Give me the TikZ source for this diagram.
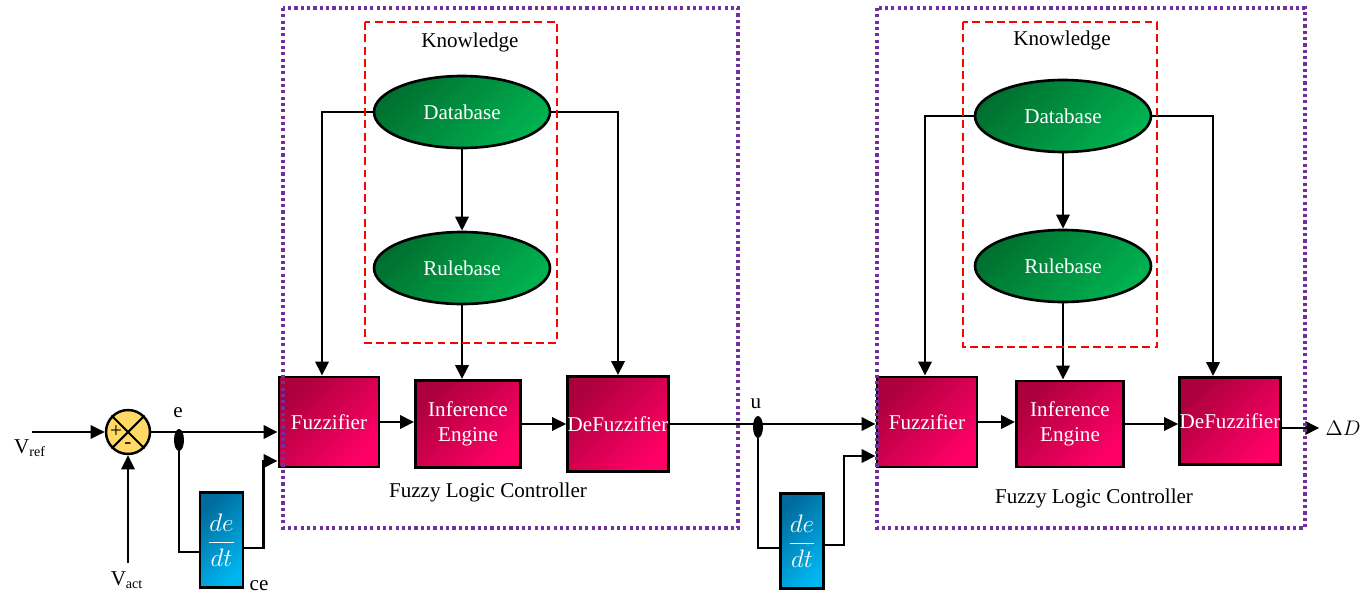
\documentclass[tikz,border=0pt]{standalone}
\usepackage{fontspec}
\setmainfont{Liberation Serif}
\usepackage{tikz}
\usetikzlibrary{arrows.meta,shapes.geometric,positioning,calc}
\definecolor{flcpurple}{RGB}{112,48,160}
\definecolor{crimdark}{RGB}{172,0,60}
\definecolor{crimlight}{RGB}{255,0,102}
\definecolor{grndark}{RGB}{0,112,48}
\definecolor{grnlight}{RGB}{0,178,80}
\definecolor{bludark}{RGB}{0,108,158}
\definecolor{blulight}{RGB}{0,182,240}
\definecolor{sumyellow}{RGB}{255,217,102}

\begin{document}
\begin{tikzpicture}[
  x=0.02cm,y=-0.02cm,
  blk/.style={rectangle,draw=black,line width=1.6pt,
              top color=crimdark,bottom color=crimlight,shading angle=45,
              text=white,align=center,inner sep=0pt,
              minimum width=2cm,minimum height=1.8cm,
              font=\fontsize{12}{14}\selectfont},
  kbase/.style={ellipse,draw=black,line width=1.5pt,
                top color=grndark,bottom color=grnlight,shading angle=45,
                text=white,minimum width=3.52cm,minimum height=1.44cm,
                inner sep=0pt,font=\fontsize{12}{14}\selectfont},
  diffblk/.style={rectangle,draw=black,line width=1.6pt,
                  top color=bludark,bottom color=blulight,shading angle=45,
                  text=white,minimum width=0.86cm,minimum height=1.9cm,
                  inner sep=0pt,font=\fontsize{15}{17}\selectfont},
  sumj/.style={circle,draw=black,line width=1.4pt,fill=sumyellow,
               minimum size=0.88cm,inner sep=0pt},
  tap/.style={ellipse,fill=black,minimum width=0.2cm,
              minimum height=0.44cm,inner sep=0pt},
  lbl/.style={font=\fontsize{12}{14}\selectfont},
  wire/.style={line width=1.6pt},
  arr/.style={-{Triangle[length=8pt,width=7.5pt]},line width=1.6pt},
  flcframe/.style={draw=flcpurple,line width=2pt,
                   dash pattern=on 1.8pt off 1.8pt},
  kframe/.style={draw=red,line width=1.6pt,
                 dash pattern=on 4.5pt off 2.5pt},
]
\useasboundingbox (0,0) rectangle (1368,595);

%% Error path: V_ref, V_act -> sum -> e
\node[sumj] (sum) at (128,432) {};
\draw[line width=1.2pt] (sum.north west) -- (sum.south east)
                        (sum.north east) -- (sum.south west);
\node[lbl] (plus)  at (116,432) {+};
\node[lbl] (minus) at (128,446) {-};

\coordinate (vrefin) at (32,432);
\coordinate (vactin) at (128,563);
\node[lbl] (vref) at (30,448) {V\textsubscript{ref}};
\node[lbl,anchor=south] (vact) at (127,595) {V\textsubscript{act}};
\draw[arr] (vrefin) -- (sum.west);
\draw[arr] (vactin) -- (sum.south);

%% Left controller
\node[blk] (fz1) at (329,422) {Fuzzifier};
\node[blk,minimum width=2.1cm,minimum height=1.74cm] (ie1) at (468,424) {Inference\\Engine};
\node[blk,minimum height=1.9cm] (df1) at (618,424) {DeFuzzifier};
\node[kbase] (db1) at (462,112) {Database};
\node[kbase] (rb1) at (462,268) {Rulebase};
\node[lbl] (kn1)  at (470,42)  {Knowledge};
\node[lbl] (flc1) at (488,492) {Fuzzy Logic Controller};

% e and its derivative
\draw[arr] (sum.east) -- (sum.east -| fz1.west);
\node[tap] (je) at (179,440) {};
\node[lbl] (elbl) at (178,413) {e};
\node[diffblk] (dd1) at (221.5,540) {$\displaystyle\frac{de}{dt}$};
\node[lbl] (celbl) at (259,586) {ce};
\draw[wire] (je.south) |- ([yshift=-0.24cm]dd1.west);
\draw[arr] ([yshift=-0.16cm]dd1.east) -- ++(19,0) |- ([yshift=-0.78cm]fz1.west);

% Knowledge arrows
\draw[arr] (db1.west) -| ([xshift=-0.14cm]fz1.north);
\draw[arr] (db1.east) -| (df1.north);
\draw[arr] (db1) -- (rb1);
\draw[arr] (rb1.south) -- (rb1.south |- ie1.north);
\draw[arr] (fz1.east) -- (fz1.east -| ie1.west);
\draw[arr] (ie1.east) -- (df1.west);

%% Right controller
\node[blk] (fz2) at (927,422) {Fuzzifier};
\node[blk,minimum width=2.14cm,minimum height=1.72cm] (ie2) at (1070,424) {Inference\\Engine};
\node[blk,minimum height=1.74cm] (df2) at (1230,421) {DeFuzzifier};
\node[kbase] (db2) at (1063,116) {Database};
\node[kbase] (rb2) at (1063,266) {Rulebase};
\node[lbl] (kn2)  at (1062,40)  {Knowledge};
\node[lbl] (flc2) at (1094,498) {Fuzzy Logic Controller};

% u and its derivative
\draw[arr] (df1.east) -- (df1.east -| fz2.west);
\node[tap] (ju) at (758,427) {};
\node[lbl] (ulbl) at (756,404) {u};
\node[diffblk] (dd2) at (802,541) {$\displaystyle\frac{de}{dt}$};
\draw[wire] (ju.south) |- ([yshift=-0.14cm]dd2.west);
\draw[arr] ([yshift=-0.08cm]dd2.east) -- ++(19,0) |- ([yshift=-0.68cm]fz2.west);

% Knowledge arrows
\draw[arr] (db2.west) -| ([xshift=-0.04cm]fz2.north);
\draw[arr] (db2.east) -| ([xshift=-0.34cm]df2.north);
\draw[arr] (db2) -- (rb2);
\draw[arr] (rb2.south) -- (rb2.south |- ie2.north);
\draw[arr] (fz2.east) -- (fz2.east -| ie2.west);
\draw[arr] (ie2.east) -- (ie2.east -| df2.west);

% Output
\node[font=\fontsize{11.5}{14}\selectfont] (dD) at (1343,428) {$\Delta D$};
\draw[arr] (df2.east |- dD.west) -- (dD.west);

%% Frames
\draw[kframe] (365,22) rectangle (557,343);
\draw[kframe] (963,22) rectangle (1157,347);
\draw[flcframe] (283,8) rectangle (738,528);
\draw[flcframe] (877,8) rectangle (1305,528);

\end{tikzpicture}
\end{document}
